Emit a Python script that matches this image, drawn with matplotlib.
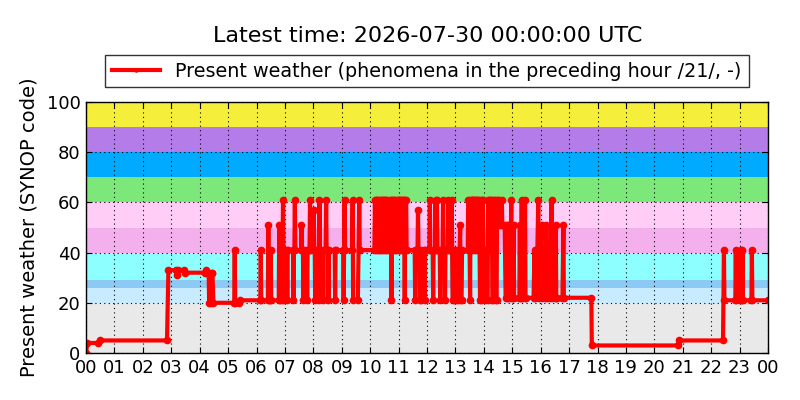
import matplotlib
matplotlib.use("Agg")
import matplotlib.pyplot as plt
import numpy as np

# ---- data (time in minutes since 00:00 UTC, SYNOP present weather code) ----
minutes = [
    0, 3, 26, 29, 171, 174, 190, 192, 194, 206, 208, 252, 254, 256, 259, 260, 263, 265, 267, 269,
    313, 314, 315, 324, 326,
    368, 369, 370, 384, 385, 386, 389, 390, 391, 407, 408, 409, 414, 416, 418, 420,
    424, 425, 426, 437, 438, 439, 440, 441, 442, 454, 455, 456, 458, 459, 460, 466, 467, 468,
    472, 473, 474, 480,
    481, 482, 483, 484, 485, 491, 492, 493, 494, 500, 501, 502, 506, 507, 508, 511, 512, 513,
    525, 526, 527, 543, 544, 545, 546, 547,
    562, 563, 564, 574, 577, 578,
    609, 610, 612, 613, 615, 616, 617, 619, 620, 622, 623, 624, 626, 627, 629, 630, 631, 633,
    634, 635, 636,
    641, 642, 644, 645, 646, 648, 649, 651, 652, 653, 655, 656, 658, 659, 660, 662, 663, 665,
    666, 667, 669, 670, 672, 673, 674, 676, 677,
    694, 695, 696, 700, 701, 702, 704, 705, 707, 708, 714, 715, 716,
    725, 726, 727, 732, 733, 734, 737, 738, 739, 741, 742, 747, 748, 749, 753, 754, 755,
    757, 758, 759, 764, 765, 766, 771, 772, 774, 776, 777,
    781, 782, 786, 787, 789, 790, 791, 793, 794,
    806, 807, 809, 810, 811, 812, 814, 815, 816, 818, 819, 820, 822, 823, 824, 826, 827, 828,
    830, 831, 832, 833, 835, 836, 838, 839,
    842, 843, 848, 849, 851, 852, 853, 855, 857, 858, 860, 861, 863, 865, 867, 868, 870, 872,
    873, 876, 878, 879, 884,
    886, 888, 889, 891, 892, 895, 898, 899,
    902, 903, 904, 915, 916, 917, 919, 920, 921, 926, 927, 928,
    945, 947, 948, 950, 953, 955, 956, 958, 960, 962, 963, 965,
    968, 969, 971, 972, 973, 975, 978, 979, 981, 983, 984, 986, 989, 990, 992, 993, 995,
    1006, 1008, 1009, 1067, 1068,
    1250, 1252, 1345, 1347, 1348, 1371, 1372, 1373, 1381, 1382, 1383, 1385, 1386, 1387,
    1405, 1406, 1407, 1440,
]
codes = [
    0, 4, 4, 5, 5, 33, 33, 31, 33, 33, 32, 32, 33, 32, 32, 20, 20, 32, 32, 20,
    20, 41, 20, 20, 21,
    21, 41, 21, 21, 51, 21, 21, 41, 21, 21, 51, 21, 21, 61, 21, 41,
    41, 21, 41, 41, 21, 41, 41, 61, 41, 41, 51, 41, 41, 21, 41, 41, 21, 41,
    41, 61, 41, 41,
    57, 41, 41, 21, 41, 41, 21, 61, 41, 41, 21, 41, 41, 61, 41, 41, 21, 41,
    41, 21, 41, 41, 21, 41, 61, 41,
    41, 61, 21, 21, 61, 41,
    41, 61, 41, 61, 61, 41, 61, 41, 61, 61, 41, 61, 41, 61, 61, 41, 61, 41,
    61, 61, 41,
    41, 61, 61, 21, 61, 41, 61, 61, 41, 61, 41, 61, 61, 41, 61, 41, 61, 61,
    41, 61, 41, 61, 61, 21, 61, 61, 41,
    41, 21, 41, 41, 57, 41, 41, 21, 21, 41, 41, 21, 41,
    41, 61, 41, 41, 21, 41, 41, 61, 41, 61, 41, 41, 21, 41, 41, 61, 41,
    41, 21, 41, 41, 61, 41, 41, 61, 21, 21, 41,
    41, 21, 21, 41, 41, 51, 21, 21, 41,
    41, 61, 61, 41, 21, 61, 61, 41, 61, 61, 41, 61, 61, 41, 61, 61, 41, 61,
    61, 41, 21, 61, 21, 61, 61, 41,
    41, 21, 21, 61, 61, 41, 61, 61, 61, 21, 21, 61, 61, 21, 21, 61, 61, 61,
    51, 51, 61, 51, 51,
    22, 22, 51, 51, 22, 22, 61, 22,
    22, 51, 22, 22, 51, 22, 22, 61, 22, 22, 61, 22,
    22, 41, 22, 41, 41, 61, 22, 41, 41, 51, 22, 41,
    41, 22, 41, 51, 22, 41, 41, 22, 41, 61, 22, 41, 41, 22, 51, 22, 22,
    22, 51, 22, 22, 3,
    3, 5, 5, 41, 21, 21, 41, 21, 21, 41, 21, 21, 41, 21,
    21, 41, 21, 21,
]

# background bands (lower, upper, colour)
band_lower = [0, 20, 26, 29, 40, 50, 60, 70, 80, 90]
band_upper = [20, 26, 29, 40, 50, 60, 70, 80, 90, 100]
band_colors = ["#e9e9e9", "#c8ebff", "#8ccaf5", "#8dffff", "#f4b0ec",
               "#ffcdf5", "#7de87a", "#00aaff", "#b47ce8", "#f5ef3c"]

hour_labels = ["%02d" % (h % 24) for h in range(25)]

# ---- plot ----
fig = plt.figure(figsize=(8, 4), dpi=100)
ax = fig.add_axes([0.1075, 0.1175, 0.8525, 0.6275])

for lo, hi, c in zip(band_lower, band_upper, band_colors):
    ax.axhspan(lo, hi, color=c, lw=0, zorder=0)

t = np.array(minutes) / 60.0
ax.plot(t, codes, color="red", lw=3.0, marker=".", markersize=9, zorder=3,
        label="Present weather (phenomena in the preceding hour /21/, -)")

ax.set_xlim(0, 24)
ax.set_ylim(0, 100)
ax.set_xticks(range(25))
ax.set_xticklabels(hour_labels)
ax.set_yticks([0, 20, 40, 60, 80, 100])
ax.tick_params(labelsize=13, direction="in", top=True, right=True, length=4, pad=4)
ax.grid(True, color="black", linestyle=(0, (1, 3)), linewidth=0.8, zorder=1)
ax.set_axisbelow(False)
for s in ax.spines.values():
    s.set_color("black")
    s.set_linewidth(1.0)
    s.set_zorder(5)

ax.set_ylabel("Present weather (SYNOP code)", fontsize=14, labelpad=6)
fig.suptitle("Latest time: 2026-07-30 00:00:00 UTC", fontsize=16, x=0.534, y=0.935)

leg = ax.legend(loc="lower center", bbox_to_anchor=(0.5, 1.02), fontsize=13.8,
                frameon=True, fancybox=False, borderpad=0.35, handlelength=2.5,
                markerscale=0.5)
leg.get_frame().set_edgecolor("black")
leg.get_frame().set_linewidth(1.0)

fig.savefig("out.png", dpi=100)
